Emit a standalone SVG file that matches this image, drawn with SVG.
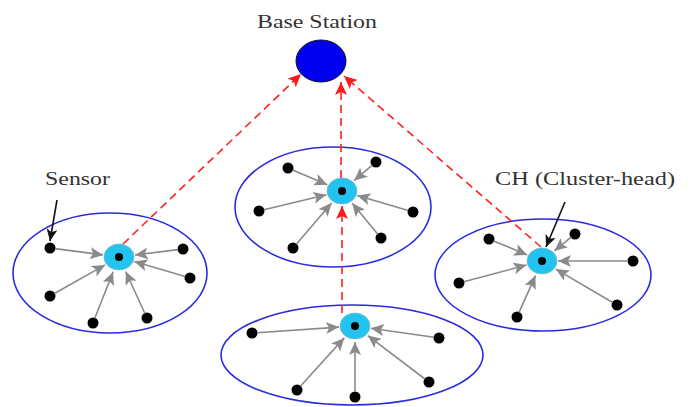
<svg xmlns="http://www.w3.org/2000/svg" width="690" height="407" viewBox="0 0 690 407">
<style>
.lbl{font-family:"Liberation Serif","Times New Roman",serif;font-size:18px;fill:#333}
.cl{fill:none;stroke:#2a2ae0;stroke-width:1.6}
.s{fill:#000}
.ch{fill:#22c3ee;stroke:#7fb8c8;stroke-width:0.8}
.g{stroke:#8a8a8a;stroke-width:1.6;fill:none;marker-end:url(#ga)}
.r{stroke:#ff2020;stroke-width:1.6;stroke-dasharray:8,5;fill:none;marker-end:url(#ra)}
.k{stroke:#111;stroke-width:1.6;fill:none;marker-end:url(#ka)}
</style>
<defs>
<marker id="ga" markerUnits="userSpaceOnUse" markerWidth="14" markerHeight="12" refX="13" refY="6" orient="auto"><path d="M0,0 L13,6 L0,12 L3,6 z" fill="#8a8a8a"/></marker>
<marker id="ra" markerUnits="userSpaceOnUse" markerWidth="14" markerHeight="12" refX="13" refY="6" orient="auto"><path d="M0,0 L13,6 L0,12 L3,6 z" fill="#ff1a1a"/></marker>
<marker id="ka" markerUnits="userSpaceOnUse" markerWidth="13" markerHeight="11" refX="12" refY="5.5" orient="auto"><path d="M0,0 L12,5.5 L0,11 L3,5.5 z" fill="#111"/></marker>
</defs>
<rect width="690" height="407" fill="#fff"/>

<g id="base-station">
<ellipse cx="321" cy="61" rx="25" ry="21" fill="#0000ee" stroke="#111" stroke-width="1"/>
<text class="lbl" x="257" y="28" textLength="120" lengthAdjust="spacingAndGlyphs">Base Station</text>
</g>

<g id="cluster-left">
<ellipse class="cl" cx="110" cy="273" rx="97" ry="60"/>
<circle class="s" cx="50" cy="248" r="5.5"/>
<circle class="s" cx="183" cy="249" r="5.5"/>
<circle class="s" cx="190" cy="278" r="5.5"/>
<circle class="s" cx="50" cy="296" r="5.5"/>
<circle class="s" cx="93" cy="323" r="5.5"/>
<circle class="s" cx="147" cy="318" r="5.5"/>
<ellipse class="ch" cx="119" cy="257" rx="15" ry="13"/>
<circle class="s" cx="119" cy="257" r="4"/>
</g>

<g id="cluster-middle">
<ellipse class="cl" cx="333" cy="207" rx="98" ry="60"/>
<circle class="s" cx="288" cy="168" r="5.5"/>
<circle class="s" cx="376" cy="162" r="5.5"/>
<circle class="s" cx="259" cy="211" r="5.5"/>
<circle class="s" cx="413" cy="212" r="5.5"/>
<circle class="s" cx="293" cy="248" r="5.5"/>
<circle class="s" cx="381" cy="238" r="5.5"/>
<ellipse class="ch" cx="342" cy="191" rx="15" ry="13"/>
<circle class="s" cx="342" cy="191" r="4"/>
</g>

<g id="cluster-right">
<ellipse class="cl" cx="543" cy="275" rx="108" ry="56"/>
<circle class="s" cx="489" cy="239" r="5.5"/>
<circle class="s" cx="575" cy="234" r="5.5"/>
<circle class="s" cx="633" cy="261" r="5.5"/>
<circle class="s" cx="459" cy="283" r="5.5"/>
<circle class="s" cx="617" cy="305" r="5.5"/>
<circle class="s" cx="517" cy="317" r="5.5"/>
<ellipse class="ch" cx="542" cy="261" rx="15" ry="13"/>
<circle class="s" cx="542" cy="261" r="4"/>
</g>

<g id="cluster-bottom">
<ellipse class="cl" cx="352" cy="355" rx="131" ry="50"/>
<circle class="s" cx="252" cy="333" r="5.5"/>
<circle class="s" cx="439" cy="338" r="5.5"/>
<circle class="s" cx="297" cy="390" r="5.5"/>
<circle class="s" cx="355" cy="397" r="5.5"/>
<circle class="s" cx="429" cy="382" r="5.5"/>
<ellipse class="ch" cx="355" cy="326" rx="15" ry="13"/>
<circle class="s" cx="355" cy="326" r="4"/>
</g>

<g id="label-sensor">
<text class="lbl" x="45" y="185" textLength="65" lengthAdjust="spacingAndGlyphs">Sensor</text>
</g>
<g id="label-ch">
<text class="lbl" x="495" y="185" textLength="180" lengthAdjust="spacingAndGlyphs">CH (Cluster-head)</text>
</g>

<g id="connectors">
<line class="g" x1="55" y1="248.6" x2="103.1" y2="254.9"/>
<line class="g" x1="178" y1="249.6" x2="134.9" y2="255"/>
<line class="g" x1="185.2" y1="276.6" x2="134.3" y2="261.5"/>
<line class="g" x1="54.4" y1="293.5" x2="105.1" y2="264.9"/>
<line class="g" x1="94.8" y1="318.3" x2="113.1" y2="271.9"/>
<line class="g" x1="144.9" y1="313.5" x2="125.7" y2="271.5"/>

<line class="g" x1="292.6" y1="170" x2="327.3" y2="184.7"/>
<line class="g" x1="372.2" y1="165.2" x2="354.2" y2="180.6"/>
<line class="g" x1="263.9" y1="209.8" x2="326.4" y2="194.7"/>
<line class="g" x1="408.2" y1="210.6" x2="357.3" y2="195.5"/>
<line class="g" x1="296.3" y1="244.2" x2="331.6" y2="203.1"/>
<line class="g" x1="377.8" y1="234.2" x2="352.2" y2="203.3"/>

<line class="g" x1="493.6" y1="240.9" x2="527.2" y2="254.9"/>
<line class="g" x1="571.1" y1="237.2" x2="554.4" y2="250.9"/>
<line class="g" x1="628" y1="261" x2="558" y2="261"/>
<line class="g" x1="463.8" y1="281.7" x2="526.5" y2="265.1"/>
<line class="g" x1="612.7" y1="302.5" x2="555.8" y2="269.1"/>
<line class="g" x1="519" y1="312.4" x2="535.5" y2="275.6"/>

<line class="g" x1="257" y1="332.7" x2="339" y2="327.1"/>
<line class="g" x1="434" y1="337.3" x2="370.8" y2="328.3"/>
<line class="g" x1="300.4" y1="386.3" x2="344.3" y2="337.9"/>
<line class="g" x1="355" y1="392" x2="355" y2="342"/>
<line class="g" x1="425" y1="379" x2="367.8" y2="335.6"/>

<line class="r" x1="123" y1="244" x2="301" y2="74"/>
<line class="r" x1="341" y1="178" x2="341" y2="82"/>
<line class="r" x1="342" y1="313" x2="342" y2="206"/>
<line class="r" x1="541" y1="247" x2="344" y2="76"/>

<line class="k" x1="57" y1="200" x2="50" y2="241"/>
<line class="k" x1="565" y1="202" x2="546" y2="247"/>
</g>
</svg>
